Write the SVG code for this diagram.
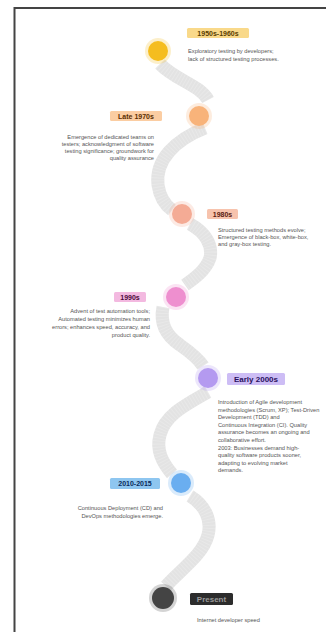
<svg xmlns="http://www.w3.org/2000/svg" width="326" height="632" viewBox="0 0 326 632">
<style>
.band{fill:none;stroke:#e3e3e3;stroke-width:13;stroke-linecap:butt}
.band2{fill:none;stroke:#ffffff;stroke-width:13;stroke-dasharray:1 2;opacity:0.2}
.lbl{font-family:"Liberation Sans",Arial,sans-serif;font-size:7px;font-weight:bold;text-anchor:middle}
.desc{font-family:"Liberation Sans",Arial,sans-serif;font-size:5.7px;fill:#555}
.end{text-anchor:end}
.halo{opacity:0.25}
</style>
<rect x="0" y="0" width="326" height="632" fill="#ffffff"/>
<rect x="14.5" y="8" width="400" height="700" fill="none" stroke="#444" stroke-width="2"/>
<g id="connectors">
<path class="band" d="M160,64 C175,80 200,85 208,100"/>
<path class="band" d="M205,128 C175,140 155,160 158,185 C160,198 165,205 172,210"/>
<path class="band" d="M190,224 C205,232 213,245 210,258 C206,270 195,278 185,285"/>
<path class="band" d="M163,307 C160,322 165,335 180,345 C190,352 198,358 203,366"/>
<path class="band" d="M208,392 C185,405 165,415 160,435 C156,450 162,462 172,474"/>
<path class="band" d="M190,496 C205,505 212,520 208,535 C203,555 180,570 166,586"/>
<path class="band2" d="M160,64 C175,80 200,85 208,100"/>
<path class="band2" d="M205,128 C175,140 155,160 158,185 C160,198 165,205 172,210"/>
<path class="band2" d="M190,224 C205,232 213,245 210,258 C206,270 195,278 185,285"/>
<path class="band2" d="M163,307 C160,322 165,335 180,345 C190,352 198,358 203,366"/>
<path class="band2" d="M208,392 C185,405 165,415 160,435 C156,450 162,462 172,474"/>
<path class="band2" d="M190,496 C205,505 212,520 208,535 C203,555 180,570 166,586"/>
</g>
<g id="n1">
<circle class="halo" cx="158" cy="51" r="13" fill="#f5c02a"/>
<circle cx="158" cy="51" r="10" fill="#f5bd1f"/>
<rect x="187" y="28" width="62" height="10" rx="1.5" fill="#f9d98a"/>
<text class="lbl" x="218" y="35.5" fill="#5a3d00">1950s-1960s</text>
<text class="desc" x="188" y="53">Exploratory testing by developers;</text>
<text class="desc" x="188" y="61">lack of structured testing processes.</text>
</g>
<g id="n2">
<circle class="halo" cx="199" cy="116" r="13" fill="#f8b57a"/>
<circle cx="199" cy="116" r="10" fill="#f8b37a"/>
<rect x="110" y="111" width="52" height="10" rx="1.5" fill="#fbcda2"/>
<text class="lbl" x="136" y="118.5" fill="#5a2e00">Late 1970s</text>
<text class="desc end" x="154" y="139">Emergence of dedicated teams on</text>
<text class="desc end" x="154" y="146">testers; acknowledgment of software</text>
<text class="desc end" x="154" y="153">testing significance; groundwork for</text>
<text class="desc end" x="154" y="160">quality assurance</text>
</g>
<g id="n3">
<circle class="halo" cx="182" cy="214" r="13" fill="#f4ab95"/>
<circle cx="182" cy="214" r="10" fill="#f4ab95"/>
<rect x="207" y="209" width="31" height="10" rx="1.5" fill="#f7c3ad"/>
<text class="lbl" x="222.5" y="216.5" fill="#5a2010">1980s</text>
<text class="desc" x="218" y="232">Structured testing methods evolve;</text>
<text class="desc" x="218" y="239">Emergence of black-box, white-box,</text>
<text class="desc" x="218" y="246">and gray-box testing.</text>
</g>
<g id="n4">
<circle class="halo" cx="176" cy="297" r="13" fill="#ee8fcf"/>
<circle cx="176" cy="297" r="10" fill="#ee8fcf"/>
<rect x="114" y="292" width="32" height="10" rx="1.5" fill="#f3b9e0"/>
<text class="lbl" x="130" y="299.5" fill="#4a0a3a">1990s</text>
<text class="desc end" x="150" y="313">Advent of test automation tools;</text>
<text class="desc end" x="150" y="321">Automated testing minimizes human</text>
<text class="desc end" x="150" y="329">errors; enhances speed, accuracy, and</text>
<text class="desc end" x="150" y="337">product quality.</text>
</g>
<g id="n5">
<circle class="halo" cx="208" cy="378" r="13" fill="#b49af0"/>
<circle cx="208" cy="378" r="10" fill="#b49af0"/>
<rect x="227" y="373" width="58" height="12" rx="1.5" fill="#cdbdf5"/>
<text class="lbl" x="256" y="381.5" fill="#2a1060" style="font-size:8px">Early 2000s</text>
<text class="desc" x="218" y="404">Introduction of Agile development</text>
<text class="desc" x="218" y="411.6">methodologies (Scrum, XP); Test-Driven</text>
<text class="desc" x="218" y="419.2">Development (TDD) and</text>
<text class="desc" x="218" y="426.8">Continuous Integration (CI). Quality</text>
<text class="desc" x="218" y="434.4">assurance becomes an ongoing and</text>
<text class="desc" x="218" y="442">collaborative effort.</text>
<text class="desc" x="218" y="449.6">2003: Businesses demand high-</text>
<text class="desc" x="218" y="457.2">quality software products sooner,</text>
<text class="desc" x="218" y="464.8">adapting to evolving market</text>
<text class="desc" x="218" y="472.4">demands.</text>
</g>
<g id="n6">
<circle class="halo" cx="181" cy="483" r="13" fill="#6aaef0"/>
<circle cx="181" cy="483" r="10" fill="#6aaef0"/>
<rect x="110" y="478" width="50" height="11" rx="1.5" fill="#8ec6f0"/>
<text class="lbl" x="135" y="486" fill="#0a2a5a">2010-2015</text>
<text class="desc end" x="163" y="510">Continuous Deployment (CD) and</text>
<text class="desc end" x="163" y="518">DevOps methodologies emerge.</text>
</g>
<g id="n7">
<circle class="halo" cx="163" cy="598" r="14" fill="#555"/>
<circle cx="163" cy="598" r="11" fill="#444"/>
<rect x="190" y="593" width="43" height="12" rx="1.5" fill="#2c2c2c"/>
<text class="lbl" x="211.5" y="601.5" fill="#9a9a9a" style="font-size:8px">Present</text>
<text class="desc" x="197" y="622">Internet developer speed</text>
</g>
</svg>
